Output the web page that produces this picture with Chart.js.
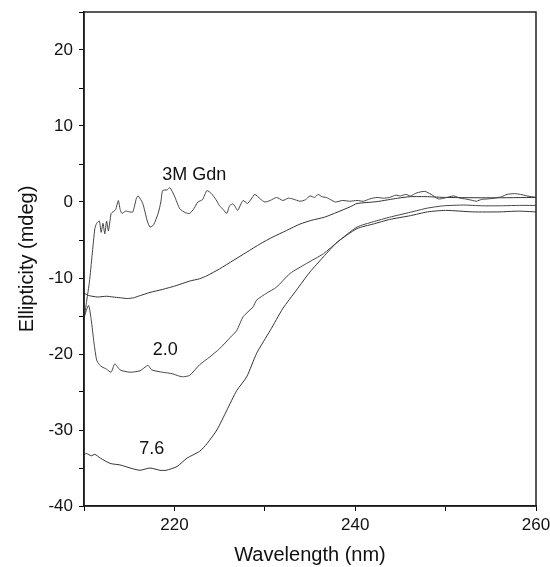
<!DOCTYPE html>
<html>
<head>
<meta charset="utf-8">
<script src="https://cdn.jsdelivr.net/npm/chart.js@4/dist/chart.umd.min.js"></script>
<style>
  html, body { margin: 0; padding: 0; background: #fff; }
  #wrap { width: 550px; height: 567px; }
</style>
</head>
<body>
<div id="wrap"><canvas id="cdChart" width="550" height="567"></canvas></div>
<script>
// 📋 Data
const gdnWl = [210.0, 210.3, 210.6, 210.9, 211.2, 211.4, 211.7, 211.9, 212.1, 212.3, 212.5, 212.7, 213.0, 213.2, 213.5, 213.8, 214.0, 214.2, 214.6, 215.0, 215.4, 215.8, 216.0, 216.5, 217.0, 217.3, 217.7, 218.2, 218.5, 218.7, 219.2, 219.5, 220.0, 220.6, 221.2, 221.7, 222.2, 222.6, 223.1, 223.6, 224.1, 224.6, 225.0, 225.4, 225.8, 226.1, 226.5, 227.0, 227.3, 227.6, 228.1, 228.5, 228.9, 229.5, 230.0, 230.6, 231.3, 232.0, 232.6, 233.1, 233.9, 234.5, 235.0, 235.5, 235.9, 236.3, 236.8, 237.3, 237.8, 238.6, 239.4, 240.2, 240.9, 241.6, 242.4, 243.1, 243.8, 244.5, 245.0, 245.6, 246.1, 246.8, 247.7, 248.4, 249.2, 249.8, 250.9, 251.6, 252.2, 253.0, 253.4, 254.0, 254.6, 255.4, 256.2, 256.8, 257.6, 258.3, 259.0, 260.0];
const gdnVal = [-15.5, -13.0, -10.5, -7.0, -3.5, -2.8, -2.5, -4.0, -2.8, -4.2, -2.5, -3.8, -1.5, -1.3, -1.0, 0.2, -1.0, -1.5, -1.2, -1.3, -1.3, 0.5, 0.8, -0.2, -2.5, -3.3, -3.0, -1.5, 0.0, 1.5, 1.6, 1.9, 0.8, -0.9, -1.4, -1.5, -0.8, 0.0, 0.3, 1.5, 1.1, 0.3, -0.5, -1.0, -1.5, -0.5, -0.25, -1.1, -0.4, 0.2, -0.2, 0.4, 1.0, 0.4, 0.0, 0.2, 0.6, 0.2, 0.5, 0.4, 0.1, 0.3, 0.8, 0.6, 1.0, 0.7, 0.6, 0.3, 0.0, 0.2, 0.1, 0.2, 0.1, 0.4, 0.6, 0.5, 0.6, 0.9, 0.8, 1.0, 0.8, 1.2, 1.4, 1.0, 0.4, 0.5, 0.8, 0.5, 0.4, 0.2, 0.1, 0.35, 0.4, 0.5, 0.7, 1.0, 1.1, 1.0, 0.8, 0.6];

const midWl = [210.0, 210.5, 211.5, 212.5, 213.2, 214.0, 214.8, 215.5, 216.0, 217.3, 218.7, 220.2, 221.7, 222.8, 223.6, 225.0, 226.5, 228.0, 229.5, 230.9, 232.4, 233.9, 235.2, 236.6, 238.0, 239.5, 240.2, 242.4, 244.7, 246.1, 248.0, 250.0, 255.0, 260.0];
const midVal = [-12.0, -12.3, -12.5, -12.4, -12.5, -12.6, -12.7, -12.6, -12.4, -11.9, -11.5, -11.0, -10.4, -10.1, -9.7, -8.8, -7.7, -6.6, -5.5, -4.6, -3.75, -2.9, -2.4, -2.0, -1.35, -0.6, -0.2, 0.05, 0.5, 0.7, 0.7, 0.6, 0.55, 0.6];

const twoWl = [210.0, 210.5, 210.8, 211.1, 211.4, 211.7, 212.0, 212.5, 213.0, 213.4, 214.0, 215.1, 216.2, 216.9, 217.1, 217.5, 218.7, 219.8, 220.5, 221.0, 221.7, 222.8, 223.9, 225.0, 226.2, 226.9, 227.6, 228.7, 229.1, 230.2, 231.3, 232.8, 234.6, 236.5, 238.0, 240.2, 242.0, 243.8, 246.1, 248.0, 249.8, 252.0, 254.0, 256.0, 258.0, 260.0];
const twoVal = [-15.2, -13.6, -15.5, -18.5, -20.8, -21.4, -21.7, -22.0, -22.4, -21.3, -22.1, -22.4, -22.2, -21.6, -21.5, -22.1, -22.4, -22.6, -22.9, -23.0, -22.8, -21.4, -20.4, -19.3, -17.8, -16.9, -15.1, -13.8, -12.9, -12.0, -11.2, -9.4, -8.1, -6.8, -5.3, -3.3, -2.6, -2.0, -1.35, -0.8, -0.5, -0.4, -0.5, -0.5, -0.45, -0.45];

const sevenWl = [210.0, 210.3, 210.8, 211.2, 211.8, 212.9, 214.0, 215.1, 216.2, 217.3, 218.4, 219.1, 220.3, 221.4, 222.8, 223.6, 224.7, 225.8, 226.9, 228.0, 229.1, 230.6, 232.0, 233.5, 235.0, 236.5, 238.0, 240.2, 242.0, 243.8, 246.1, 248.0, 250.0, 253.0, 256.0, 258.0, 260.0];
const sevenVal = [-33.2, -33.1, -33.4, -33.2, -33.7, -34.4, -34.6, -35.0, -35.3, -35.0, -35.3, -35.3, -34.8, -33.7, -32.8, -31.8, -30.0, -27.4, -24.8, -23.0, -19.9, -16.9, -14.0, -11.6, -9.2, -7.2, -5.3, -3.5, -2.9, -2.3, -1.8, -1.3, -1.1, -1.3, -1.3, -1.2, -1.3];

// 🏷️ Curve labels (placed in data units)
const curveLabels = ["3M Gdn", "2.0", "7.6"];
const labelWl = [222.2, 219.0, 217.5];
const labelVal = [3.5, -19.45, -32.5];

const FONT = "'Liberation Sans', Arial, sans-serif";

function pts(xs, ys) {
  return xs.map((x, i) => ({ x: x, y: ys[i] }));
}

function series(xs, ys, color) {
  return {
    data: pts(xs, ys),
    borderColor: color,
    borderWidth: 1,
    pointRadius: 0,
    tension: 0.2,
    fill: false
  };
}

// 🖼️ Frame round the plot + curve labels
const framePlugin = {
  id: "frame",
  afterDraw(chart) {
    const { ctx, chartArea: a, scales } = chart;
    ctx.save();
    ctx.strokeStyle = "#222";
    ctx.lineWidth = 1.5;
    ctx.strokeRect(a.left, a.top, a.right - a.left, a.bottom - a.top);
    ctx.fillStyle = "#111";
    ctx.font = "18px " + FONT;
    ctx.textAlign = "center";
    ctx.textBaseline = "middle";
    curveLabels.forEach((t, i) => {
      ctx.fillText(t, scales.x.getPixelForValue(labelWl[i]), scales.y.getPixelForValue(labelVal[i]));
    });
    ctx.restore();
  }
};

new Chart(document.getElementById("cdChart"), {
  type: "line",
  data: {
    datasets: [
      series(gdnWl, gdnVal, "#444"),
      series(midWl, midVal, "#333"),
      series(twoWl, twoVal, "#444"),
      series(sevenWl, sevenVal, "#333")
    ]
  },
  options: {
    responsive: false,
    animation: false,
    layout: { padding: { top: 12, right: 14, left: 0, bottom: 0 } },
    plugins: { legend: { display: false }, tooltip: { enabled: false } },
    scales: {
      x: {
        type: "linear",
        min: 210,
        max: 260,
        border: { color: "#000", width: 1.5 },
        grid: { drawOnChartArea: false, drawTicks: true, tickLength: 5, color: "#000" },
        ticks: {
          stepSize: 10,
          padding: 4,
          color: "#111",
          font: { family: FONT, size: 17 },
          maxRotation: 0,
          callback: (v) => (v === 220 || v === 240 || v === 260 ? v : "")
        },
        title: {
          display: true,
          text: "Wavelength (nm)",
          color: "#111",
          font: { family: FONT, size: 20 },
          padding: { top: 2, bottom: 0 }
        },
        afterFit: (s) => { s.height = 61; s.paddingLeft = 0; s.paddingRight = 0; }
      },
      y: {
        min: -40,
        max: 25,
        border: { color: "#000", width: 1.5 },
        grid: { drawOnChartArea: false, drawTicks: true, tickLength: 5, color: "#000" },
        ticks: {
          stepSize: 5,
          padding: 6,
          color: "#111",
          font: { family: FONT, size: 17 },
          callback: (v) => (v % 10 === 0 ? v : "")
        },
        title: {
          display: true,
          text: "Ellipticity (mdeg)",
          color: "#111",
          font: { family: FONT, size: 20 },
          padding: { top: 15, bottom: 0 }
        },
        afterFit: (s) => { s.width = 84; s.paddingTop = 0; s.paddingBottom = 0; }
      }
    }
  },
  plugins: [framePlugin]
});
</script>
</body>
</html>
